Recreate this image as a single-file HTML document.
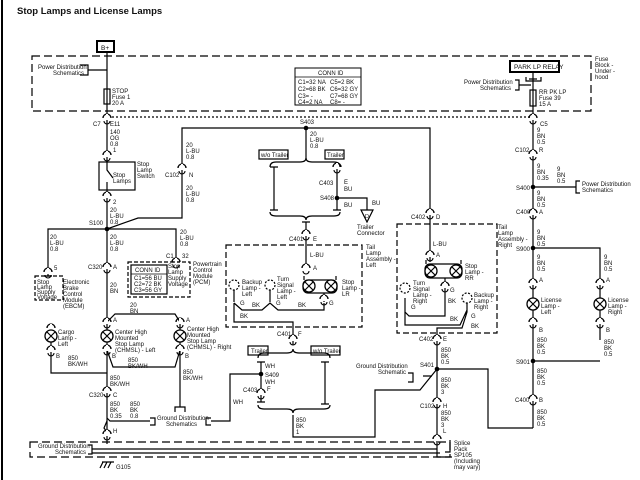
<!DOCTYPE html>
<html><head><meta charset="utf-8"><style>
html,body{margin:0;padding:0;background:#fff;}
svg{display:block;}
text{font-family:"Liberation Sans",sans-serif;font-size:6px;fill:#111;}
</style></head><body>
<svg width="640" height="480" viewBox="0 0 640 480" xmlns="http://www.w3.org/2000/svg">
<defs>
<g id="cn"><path d="M-4,3 A4,4 0 0 1 4,3" fill="none" stroke="#000" stroke-width="1.3"/><line x1="0" y1="-1" x2="0" y2="5" stroke="#fff" stroke-width="2"/><path d="M-3,6 A3,3 0 0 0 3,6" fill="none" stroke="#000" stroke-width="1.1"/></g>
<g id="lamp"><circle r="6" fill="#fff" stroke="#000" stroke-width="1.3"/><path d="M-4,-4 L4,4 M4,-4 L-4,4" stroke="#000" stroke-width="1.2"/></g>
<g id="dot"><circle r="2.3" fill="#000"/></g>
</defs>
<rect width="640" height="480" fill="#fff"/>
<line x1="2" y1="0" x2="2" y2="480" stroke="#000" stroke-width="2"/>
<text x="17" y="14" style="font-size:9.5px;font-weight:bold">Stop Lamps and License Lamps</text>

<g fill="none" stroke="#000" stroke-width="1.2">
<rect x="32" y="56" width="559" height="55" stroke-dasharray="8,4"/>
<line x1="112" y1="117" x2="531" y2="117" stroke-dasharray="2,2"/>
<rect x="97" y="41" width="17" height="11" stroke-width="2"/>
<rect x="510" y="61" width="49" height="11" stroke-width="2"/>
<line x1="107" y1="52" x2="107" y2="162"/>
<rect x="104" y="89" width="6" height="15"/>
<path d="M80,65 H88 V75 H80 M88,70 H107"/>
<rect x="99" y="162" width="36" height="28"/>
<path d="M107,190 V229 L138,218 H182 V128 H430 V213"/>
<path d="M107,162 V170 L113,178 M107,182 V190"/>
<line x1="107" y1="229" x2="107" y2="444"/>
<path d="M48,272 V229 H176 V262"/>
<rect x="35" y="276" width="28" height="24" stroke-dasharray="4,2"/>
<path d="M44,276 H52 M48,272 V276"/>
<rect x="128" y="262" width="62" height="35" stroke-dasharray="4,2"/>
<path d="M172,262 H180"/>
<rect x="131" y="265" width="36" height="29"/>
<line x1="131" y1="274" x2="167" y2="274" stroke-width="0.8"/>
<path d="M107,322 L115,314 H175 L180,322 V350 L175,367 H113 L107,350"/>
<path d="M51,342 V373 H107"/>
<path d="M180,350 V407 M175,412 V407 H185 V412"/>
<path d="M107,418 L110,421 H150 M150,418 H155 V425 H150"/>
<path d="M107,421 L104,428 L107,432"/>
<path d="M211,418 H206 V425 H211 M211,421 H230 V374 H261"/>
<rect x="30" y="442" width="420" height="15" stroke-dasharray="8,4"/>
<path d="M88,445 H92 V454 H88 M92,449 H437 M92,453 H440"/>
<path d="M102,462 H114 M103,462 L100,468 M107,462 L104,468 M111,462 L108,468"/>
<path d="M450,440 V452 H445"/>
<line x1="306" y1="128" x2="306" y2="160"/>
<path d="M270,167 Q270,162 276,162 H300 Q306,162 306,158 Q306,162 312,162 H334 Q340,162 340,167"/>
<path d="M270,167 H278 M274,167 V210 M270,210 H278"/>
<path d="M337,165 V210 M333,210 H341 M337,198 H367 V210"/>
<path d="M361,210 H373 L367,222 Z"/>
<path d="M270,212 Q270,216 276,216 H300 Q306,216 306,220 Q306,216 312,216 H334 Q340,216 340,212"/>
<path d="M302,222 H310 M306,222 V268"/>
<rect x="259" y="150" width="29" height="9"/>
<rect x="325" y="150" width="19" height="9"/>
<rect x="226" y="245" width="136" height="82" stroke-dasharray="6,3"/>
<rect x="303" y="280" width="34" height="13" rx="5"/>
<path d="M304,276 V280 M336,276 V280"/>
<path d="M324,293 V302"/>
<circle cx="234" cy="285" r="5" stroke-dasharray="2,1.5"/>
<circle cx="270" cy="285" r="5" stroke-dasharray="2,1.5"/>
<path d="M234,290 V302 M270,290 V302"/>
<path d="M234,303 L242,310 H262 L270,303 L278,310 H324 V303"/>
<path d="M234,303 V322 H293 V345"/>
<rect x="248" y="346" width="20" height="9"/>
<rect x="311" y="346" width="29" height="9"/>
<path d="M258,358 Q258,353 264,353 H287 Q293,353 293,349 Q293,353 299,353 H324 Q330,353 330,358"/>
<path d="M257,362 H265 M261,362 V402 M257,402 H265"/>
<path d="M321,362 H329 M325,362 V404 M321,404 H329"/>
<path d="M258,405 Q258,409 264,409 H287 Q293,409 293,413 Q293,409 299,409 H324 Q330,409 330,405"/>
<path d="M293,415 V437 H375 V390 H420 L437,369"/>
<rect x="397" y="224" width="100" height="109" stroke-dasharray="6,3"/>
<line x1="430" y1="213" x2="430" y2="262"/>
<rect x="425" y="264" width="37" height="14" rx="5"/>
<path d="M426,260 V264 M461,260 V264"/>
<path d="M445,278 V292 M405,298 V312 L409,316 H445 V292"/>
<circle cx="405" cy="288" r="5" stroke-dasharray="2,1.5"/>
<circle cx="467" cy="298" r="5" stroke-dasharray="2,1.5"/>
<path d="M405,312 V325 H460 L467,310 M467,303 V312 L462,328 H437 V440"/>
<path d="M437,369 H488 V428 H533"/>
<path d="M423,376 H432 M408,373 H413 V382 H408"/>
<path d="M437,440 V457 H452"/>
<line x1="533" y1="72" x2="533" y2="428"/>
<rect x="530" y="90" width="6" height="16"/>
<path d="M526,77 V81 H541 V77 M529,79 H537"/>
<path d="M515,80 H519 V90 H515 M519,85 H531"/>
<path d="M533,187 H576 M580,181 H576 V193 H580"/>
<path d="M533,248 H600 V340"/>
<path d="M533,361 H600"/>
</g>

<use href="#cn" x="107" y="115"/><use href="#cn" x="107" y="152"/><use href="#cn" x="107" y="193"/>
<use href="#cn" x="182" y="165"/><use href="#cn" x="48" y="269"/><use href="#cn" x="176" y="259"/>
<use href="#cn" x="107" y="264"/><use href="#cn" x="107" y="319"/><use href="#cn" x="180" y="319"/>
<use href="#cn" x="51" y="347"/><use href="#cn" x="107" y="346"/><use href="#cn" x="180" y="346"/>
<use href="#cn" x="51" y="325"/>
<use href="#cn" x="107" y="388"/><use href="#cn" x="107" y="431"/>
<use href="#cn" x="337" y="164"/><use href="#cn" x="306" y="231"/><use href="#cn" x="306" y="265"/>
<use href="#cn" x="324" y="296"/><use href="#cn" x="293" y="336"/><use href="#cn" x="261" y="390"/>
<use href="#cn" x="430" y="210"/><use href="#cn" x="430" y="252"/><use href="#cn" x="445" y="283"/>
<use href="#cn" x="437" y="336"/><use href="#cn" x="437" y="399"/><use href="#cn" x="437" y="436"/>
<use href="#cn" x="533" y="115"/><use href="#cn" x="533" y="151"/><use href="#cn" x="533" y="210"/>
<use href="#cn" x="533" y="280"/><use href="#cn" x="600" y="280"/><use href="#cn" x="533" y="319"/><use href="#cn" x="600" y="319"/>
<use href="#cn" x="533" y="396"/>
<use href="#lamp" x="51" y="336"/><use href="#lamp" x="107" y="336"/><use href="#lamp" x="180" y="336"/>
<use href="#lamp" x="309" y="286"/><use href="#lamp" x="331" y="286"/>
<use href="#lamp" x="431" y="271"/><use href="#lamp" x="456" y="271"/>
<use href="#lamp" x="533" y="304"/><use href="#lamp" x="600" y="304"/>
<use href="#dot" x="107" y="229"/><use href="#dot" x="306" y="128"/><use href="#dot" x="337" y="198"/>
<use href="#dot" x="261" y="374"/><use href="#dot" x="437" y="369"/><use href="#dot" x="533" y="187"/>
<use href="#dot" x="533" y="248"/><use href="#dot" x="533" y="361"/>

<text x="101" y="50" style="font-size:6.5px">B+</text>
<text x="514" y="69" style="font-size:6.5px">PARK LP RELAY</text>
<text x="38" y="69">Power Distribution</text><text x="53" y="75">Schematics</text>
<text x="112" y="93">STOP</text><text x="112" y="99">Fuse 1</text><text x="112" y="105">20 A</text>
<text x="93" y="126">C7</text><text x="110" y="126">E11</text>
<text x="110" y="134">140</text><text x="110" y="140">OG</text><text x="110" y="146">0.8</text>
<text x="113" y="152">1</text>
<text x="137" y="166">Stop</text><text x="137" y="172">Lamp</text><text x="137" y="178">Switch</text>
<text x="113" y="177">Stop</text><text x="113" y="183">Lamps</text>
<text x="113" y="204">2</text>
<text x="110" y="212">20</text><text x="110" y="218">L-BU</text><text x="110" y="224">0.8</text>
<text x="89" y="225">S100</text>
<text x="186" y="147">20</text><text x="186" y="153">L-BU</text><text x="186" y="159">0.8</text>
<text x="165" y="177">C102</text><text x="189" y="177">N</text>
<text x="186" y="190">20</text><text x="186" y="196">L-BU</text><text x="186" y="202">0.8</text>
<text x="50" y="239">20</text><text x="50" y="245">L-BU</text><text x="50" y="251">0.8</text>
<text x="110" y="239">20</text><text x="110" y="245">L-BU</text><text x="110" y="251">0.8</text>
<text x="180" y="234">20</text><text x="180" y="240">L-BU</text><text x="180" y="246">0.8</text>
<text x="166" y="258">C1</text><text x="182" y="258">32</text>
<text x="54" y="270">5</text>
<text x="37" y="284">Stop</text><text x="37" y="289">Lamp</text><text x="37" y="294">Supply</text><text x="37" y="299">Voltage</text>
<text x="63" y="284">Electronic</text><text x="63" y="290">Brake</text><text x="63" y="296">Control</text><text x="63" y="302">Module</text><text x="63" y="308">(EBCM)</text>
<text x="135" y="272">CONN ID</text><text x="134" y="280">C1=56 BU</text><text x="134" y="286">C2=72 BK</text><text x="134" y="292">C3=56 GY</text>
<text x="168" y="268">Stop</text><text x="168" y="274">Lamp</text><text x="168" y="280">Supply</text><text x="168" y="286">Voltage</text>
<text x="193" y="266">Powertrain</text><text x="193" y="272">Control</text><text x="193" y="278">Module</text><text x="193" y="284">(PCM)</text>
<text x="88" y="269">C320</text><text x="113" y="269">A</text>
<text x="110" y="287">20</text><text x="110" y="293">BN</text>
<text x="130" y="307">20</text><text x="130" y="313">BN</text>
<text x="113" y="322">A</text><text x="186" y="322">A</text>
<text x="58" y="334">Cargo</text><text x="58" y="340">Lamp -</text><text x="58" y="346">Left</text>
<text x="115" y="334">Center High</text><text x="115" y="340">Mounted</text><text x="115" y="346">Stop Lamp</text><text x="115" y="352">(CHMSL) - Left</text>
<text x="187" y="331">Center High</text><text x="187" y="337">Mounted</text><text x="187" y="343">Stop Lamp</text><text x="187" y="349">(CHMSL) - Right</text>
<text x="56" y="358">B</text><text x="112" y="358">B</text><text x="185" y="358">B</text>
<text x="68" y="360">850</text><text x="68" y="366">BK/WH</text>
<text x="128" y="362">850</text><text x="128" y="368">BK/WH</text>
<text x="183" y="374">850</text><text x="183" y="380">BK/WH</text>
<text x="110" y="380">850</text><text x="110" y="386">BK/WH</text>
<text x="89" y="397">C320</text><text x="113" y="397">C</text>
<text x="110" y="406">850</text><text x="110" y="412">BK</text><text x="110" y="418">0.35</text>
<text x="130" y="406">850</text><text x="130" y="412">BK</text><text x="130" y="418">0.8</text>
<text x="157" y="420">Ground Distribution</text><text x="166" y="426">Schematics</text>
<text x="113" y="433">H</text>
<text x="38" y="448">Ground Distribution</text><text x="55" y="454">Schematics</text>
<text x="116" y="469">G105</text>
<text x="300" y="124">S403</text>
<text x="310" y="136">20</text><text x="310" y="142">L-BU</text><text x="310" y="148">0.8</text>
<text x="261" y="157">w/o Trailer</text><text x="327" y="157">Trailer</text>
<text x="319" y="185">C403</text><text x="344" y="184">E</text><text x="344" y="191">BU</text>
<text x="320" y="200">S408</text><text x="344" y="207">BU</text><text x="372" y="205">BU</text>
<text x="365" y="218" style="font-size:5.5px">D</text>
<text x="357" y="229">Trailer</text><text x="357" y="235">Connector</text>
<text x="289" y="241">C401</text><text x="313" y="241">E</text>
<text x="310" y="257">L-BU</text><text x="313" y="270">A</text>
<text x="342" y="284">Stop</text><text x="342" y="290">Lamp -</text><text x="342" y="296">LR</text>
<text x="329" y="305">G</text>
<text x="366" y="249">Tail</text><text x="366" y="255">Lamp</text><text x="366" y="261">Assembly -</text><text x="366" y="267">Left</text>
<text x="242" y="284">Backup</text><text x="242" y="290">Lamp -</text><text x="242" y="296">Left</text>
<text x="277" y="281">Turn</text><text x="277" y="287">Signal</text><text x="277" y="293">Lamp -</text><text x="277" y="299">Left</text>
<text x="240" y="305">G</text><text x="276" y="305">G</text>
<text x="252" y="307">BK</text><text x="298" y="307">BK</text><text x="240" y="318">BK</text>
<text x="277" y="336">C401</text><text x="298" y="336">F</text>
<text x="251" y="353">Trailer</text><text x="313" y="353">w/o Trailer</text>
<text x="265" y="368">WH</text><text x="265" y="377">S409</text><text x="265" y="384">WH</text><text x="267" y="391">F</text>
<text x="243" y="392">C403</text><text x="233" y="404">WH</text>
<text x="296" y="422">850</text><text x="296" y="428">BK</text><text x="296" y="434">1</text>
<text x="411" y="219">C402</text><text x="436" y="219">D</text>
<text x="433" y="246">L-BU</text><text x="436" y="257">A</text>
<text x="465" y="268">Stop</text><text x="465" y="274">Lamp -</text><text x="465" y="280">RR</text>
<text x="450" y="292">G</text><text x="448" y="303">BK</text>
<text x="413" y="285">Turn</text><text x="413" y="291">Signal</text><text x="413" y="297">Lamp -</text><text x="413" y="303">Right</text>
<text x="411" y="309">G</text>
<text x="474" y="297">Backup</text><text x="474" y="303">Lamp -</text><text x="474" y="309">Right</text>
<text x="471" y="318">G</text><text x="450" y="321">BK</text><text x="471" y="328">BK</text>
<text x="498" y="229">Tail</text><text x="498" y="235">Lamp</text><text x="498" y="241">Assembly -</text><text x="498" y="247">Right</text>
<text x="419" y="341">C402</text><text x="443" y="341">E</text>
<text x="441" y="352">850</text><text x="441" y="358">BK</text><text x="441" y="364">0.5</text>
<text x="420" y="367">S401</text>
<text x="356" y="368">Ground Distribution</text><text x="378" y="374">Schematic</text>
<text x="441" y="382">850</text><text x="441" y="388">BK</text><text x="441" y="394">3</text>
<text x="420" y="408">C102</text><text x="443" y="408">H</text>
<text x="441" y="415">850</text><text x="441" y="421">BK</text><text x="441" y="427">3</text><text x="443" y="433">L</text>
<text x="454" y="445">Splice</text><text x="454" y="451">Pack</text><text x="454" y="457">SP105</text><text x="454" y="463">(Including</text><text x="454" y="469">may vary)</text>
<text x="595" y="61">Fuse</text><text x="595" y="67">Block -</text><text x="595" y="73">Under -</text><text x="595" y="79">hood</text>
<text x="464" y="84">Power Distribution</text><text x="480" y="90">Schematics</text>
<text x="539" y="94">RR PK LP</text><text x="539" y="100">Fuse 39</text><text x="539" y="106">15 A</text>
<text x="540" y="126">C5</text>
<text x="537" y="132">9</text><text x="537" y="138">BN</text><text x="537" y="144">0.5</text>
<text x="515" y="152">C102</text><text x="539" y="152">R</text>
<text x="537" y="168">9</text><text x="537" y="174">BN</text><text x="537" y="180">0.35</text>
<text x="557" y="171">9</text><text x="557" y="177">BN</text><text x="557" y="183">0.5</text>
<text x="582" y="186">Power Distribution</text><text x="582" y="192">Schematics</text>
<text x="516" y="190">S400</text>
<text x="537" y="195">9</text><text x="537" y="201">BN</text><text x="537" y="207">0.5</text>
<text x="516" y="214">C400</text><text x="539" y="214">A</text>
<text x="537" y="234">9</text><text x="537" y="240">BN</text><text x="537" y="246">0.5</text>
<text x="516" y="251">S900</text>
<text x="537" y="259">9</text><text x="537" y="265">BN</text><text x="537" y="271">0.5</text>
<text x="604" y="259">9</text><text x="604" y="265">BN</text><text x="604" y="271">0.5</text>
<text x="539" y="282">A</text><text x="606" y="282">A</text>
<text x="541" y="302">License</text><text x="541" y="308">Lamp -</text><text x="541" y="314">Left</text>
<text x="608" y="302">License</text><text x="608" y="308">Lamp -</text><text x="608" y="314">Right</text>
<text x="539" y="332">B</text><text x="606" y="332">B</text>
<text x="537" y="342">850</text><text x="537" y="348">BK</text><text x="537" y="354">0.5</text>
<text x="604" y="344">850</text><text x="604" y="350">BK</text><text x="604" y="356">0.5</text>
<text x="516" y="364">S901</text>
<text x="537" y="373">850</text><text x="537" y="379">BK</text><text x="537" y="385">0.5</text>
<text x="515" y="402">C400</text><text x="539" y="402">B</text>
<text x="537" y="414">850</text><text x="537" y="420">BK</text><text x="537" y="426">0.5</text>
<rect x="295" y="68" width="66" height="37" fill="none" stroke="#000" stroke-width="1"/>
<line x1="295" y1="77" x2="361" y2="77" stroke="#000" stroke-width="0.8"/>
<text x="318" y="75">CONN ID</text>
<text x="298" y="84">C1=32 NA</text><text x="330" y="84">C5=2 BK</text>
<text x="298" y="91">C2=68 BK</text><text x="330" y="91">C6=32 GY</text>
<text x="298" y="98">C3= -</text><text x="330" y="98">C7=68 GY</text>
<text x="298" y="104">C4=2 NA</text><text x="330" y="104">C8= -</text>
</svg>
</body></html>
